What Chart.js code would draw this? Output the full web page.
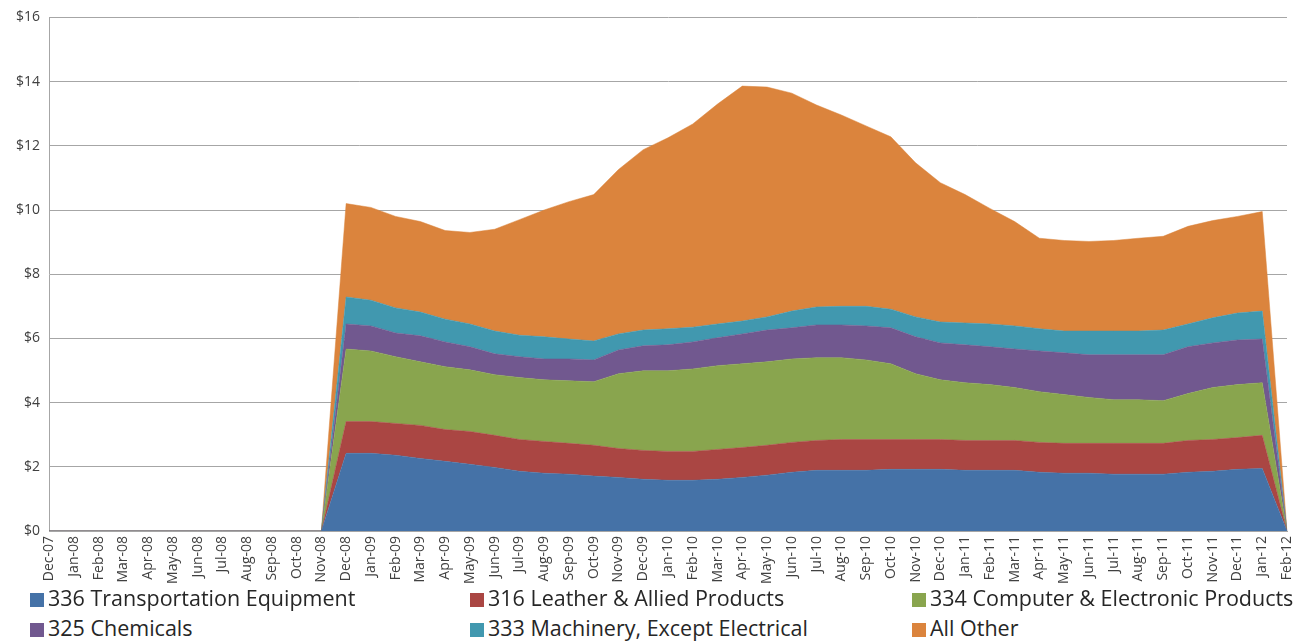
<!DOCTYPE html>
<html>
<head>
<meta charset="utf-8">
<script src="https://cdn.jsdelivr.net/npm/chart.js@4/dist/chart.umd.min.js"></script>
<style>
    body { margin: 0; background: #fff; }
    #wrap { position: relative; width: 1314px; height: 641px; }
    #chart { position: absolute; left: 0; top: 0; }
    .legend-item {
        position: absolute;
        font-family: "Open Sans", sans-serif;
        font-size: 21.5px;
        color: #262626;
        white-space: nowrap;
        line-height: 26px;
    }
    .legend-item span.box {
        display: inline-block;
        width: 14px;
        height: 14px;
        margin-right: 4px;
        vertical-align: -1px;
    }
</style>
</head>
<body>
<div id="wrap">
    <canvas id="chart" width="1314" height="590"></canvas>
    <div id="legend"></div>
</div>
<script>
// Month labels along the x axis
const months = [
    'Dec-07', 'Jan-08', 'Feb-08', 'Mar-08', 'Apr-08', 'May-08', 'Jun-08', 'Jul-08', 'Aug-08', 'Sep-08', 'Oct-08', 'Nov-08',
    'Dec-08', 'Jan-09', 'Feb-09', 'Mar-09', 'Apr-09', 'May-09', 'Jun-09', 'Jul-09', 'Aug-09', 'Sep-09', 'Oct-09', 'Nov-09',
    'Dec-09', 'Jan-10', 'Feb-10', 'Mar-10', 'Apr-10', 'May-10', 'Jun-10', 'Jul-10', 'Aug-10', 'Sep-10', 'Oct-10', 'Nov-10',
    'Dec-10', 'Jan-11', 'Feb-11', 'Mar-11', 'Apr-11', 'May-11', 'Jun-11', 'Jul-11', 'Aug-11', 'Sep-11', 'Oct-11', 'Nov-11',
    'Dec-11', 'Jan-12', 'Feb-12'
];

// Series values in $ (stacked from the bottom up)
const transportation = [0, 0, 0, 0, 0, 0, 0, 0, 0, 0, 0, 0,
    2.42, 2.42, 2.36, 2.26, 2.17, 2.08, 1.98, 1.86, 1.80, 1.77, 1.71, 1.67,
    1.61, 1.58, 1.58, 1.61, 1.67, 1.74, 1.83, 1.89, 1.89, 1.89, 1.92, 1.92,
    1.92, 1.89, 1.89, 1.89, 1.83, 1.80, 1.80, 1.77, 1.77, 1.77, 1.83, 1.86,
    1.92, 1.95, 0];
const leather = [0, 0, 0, 0, 0, 0, 0, 0, 0, 0, 0, 0,
    0.99, 0.99, 0.99, 1.03, 0.99, 1.02, 1.00, 0.99, 0.99, 0.96, 0.96, 0.90,
    0.90, 0.90, 0.90, 0.93, 0.93, 0.93, 0.93, 0.93, 0.96, 0.96, 0.93, 0.93,
    0.93, 0.93, 0.93, 0.93, 0.93, 0.93, 0.93, 0.96, 0.96, 0.96, 0.99, 0.99,
    0.99, 1.03, 0];
const computer = [0, 0, 0, 0, 0, 0, 0, 0, 0, 0, 0, 0,
    2.26, 2.20, 2.08, 1.98, 1.96, 1.92, 1.89, 1.93, 1.92, 1.95, 1.98, 2.33,
    2.48, 2.51, 2.57, 2.61, 2.61, 2.60, 2.60, 2.58, 2.55, 2.48, 2.36, 2.05,
    1.86, 1.80, 1.74, 1.65, 1.58, 1.52, 1.43, 1.36, 1.36, 1.33, 1.46, 1.62,
    1.65, 1.64, 0];
const chemicals = [0, 0, 0, 0, 0, 0, 0, 0, 0, 0, 0, 0,
    0.78, 0.78, 0.74, 0.81, 0.77, 0.72, 0.65, 0.65, 0.65, 0.68, 0.68, 0.74,
    0.78, 0.81, 0.84, 0.87, 0.93, 0.99, 0.97, 1.02, 1.02, 1.06, 1.12, 1.15,
    1.15, 1.18, 1.18, 1.20, 1.27, 1.30, 1.33, 1.40, 1.40, 1.43, 1.46, 1.39,
    1.39, 1.36, 0];
const machinery = [0, 0, 0, 0, 0, 0, 0, 0, 0, 0, 0, 0,
    0.84, 0.80, 0.78, 0.74, 0.71, 0.71, 0.71, 0.67, 0.69, 0.62, 0.59, 0.50,
    0.49, 0.50, 0.46, 0.43, 0.40, 0.41, 0.52, 0.56, 0.58, 0.61, 0.58, 0.62,
    0.65, 0.68, 0.71, 0.72, 0.69, 0.68, 0.74, 0.74, 0.74, 0.77, 0.71, 0.78,
    0.84, 0.87, 0];
const allOther = [0, 0, 0, 0, 0, 0, 0, 0, 0, 0, 0, 0,
    2.91, 2.89, 2.85, 2.82, 2.76, 2.85, 3.17, 3.60, 3.95, 4.28, 4.56, 5.12,
    5.62, 5.95, 6.33, 6.85, 7.32, 7.16, 6.79, 6.29, 5.96, 5.62, 5.37, 4.80,
    4.34, 4.00, 3.60, 3.25, 2.82, 2.82, 2.79, 2.82, 2.89, 2.92, 3.04, 3.03,
    3.01, 3.10, 0];

// Y axis tick values
const yTicks = [0, 2, 4, 6, 8, 10, 12, 14, 16];

// Legend names, colours and the order they appear in (row by row)
const seriesNames = ['336 Transportation Equipment', '316 Leather & Allied Products', '334 Computer & Electronic Products',
    '325 Chemicals', '333 Machinery, Except Electrical', 'All Other'];
const seriesColors = ['#4572A7', '#AA4643', '#89A54E', '#71588F', '#4198AF', '#DB843D'];
const seriesData = [transportation, leather, computer, chemicals, machinery, allOther];

const datasets = seriesData.map((values, i) => ({
    label: seriesNames[i],
    data: values,
    backgroundColor: seriesColors[i],
    borderColor: seriesColors[i],
    borderWidth: 0.5,
    pointRadius: 0,
    tension: 0,
    fill: i === 0 ? 'origin' : '-1'
}));

const ctx = document.getElementById('chart').getContext('2d');
new Chart(ctx, {
    type: 'line',
    data: { labels: months, datasets: datasets },
    options: {
        responsive: false,
        animation: false,
        layout: { padding: { top: 15, right: 27, left: 0, bottom: 0 } },
        plugins: {
            legend: { display: false },
            tooltip: { enabled: false }
        },
        scales: {
            x: {
                offset: false,
                grid: { display: false, drawTicks: false },
                border: { color: '#a6a6a6', width: 1 },
                ticks: {
                    autoSkip: false,
                    minRotation: 90,
                    maxRotation: 90,
                    padding: 5,
                    color: '#404040',
                    font: { family: 'Open Sans', size: 14 }
                },
                afterFit: scale => { scale.height = 59; }
            },
            y: {
                stacked: true,
                min: 0,
                max: 16,
                afterBuildTicks: scale => { scale.ticks = yTicks.map(v => ({ value: v })); },
                grid: { color: '#a6a6a6', drawTicks: false },
                border: { color: '#a6a6a6', width: 1 },
                ticks: {
                    padding: 9,
                    color: '#404040',
                    font: { family: 'Open Sans', size: 14 },
                    callback: v => '$' + v
                },
                afterFit: scale => { scale.width = 49; }
            }
        }
    }
});

// HTML legend laid out in three columns under the chart
const legendCols = [30, 470, 912];
const legendRows = [585, 615];
const legendEl = document.getElementById('legend');
seriesNames.forEach((name, i) => {
    const item = document.createElement('div');
    item.className = 'legend-item';
    item.style.left = legendCols[i % 3] + 'px';
    item.style.top = legendRows[Math.floor(i / 3)] + 'px';
    const box = document.createElement('span');
    box.className = 'box';
    box.style.background = seriesColors[i];
    item.appendChild(box);
    item.appendChild(document.createTextNode(name));
    legendEl.appendChild(item);
});
</script>
</body>
</html>
